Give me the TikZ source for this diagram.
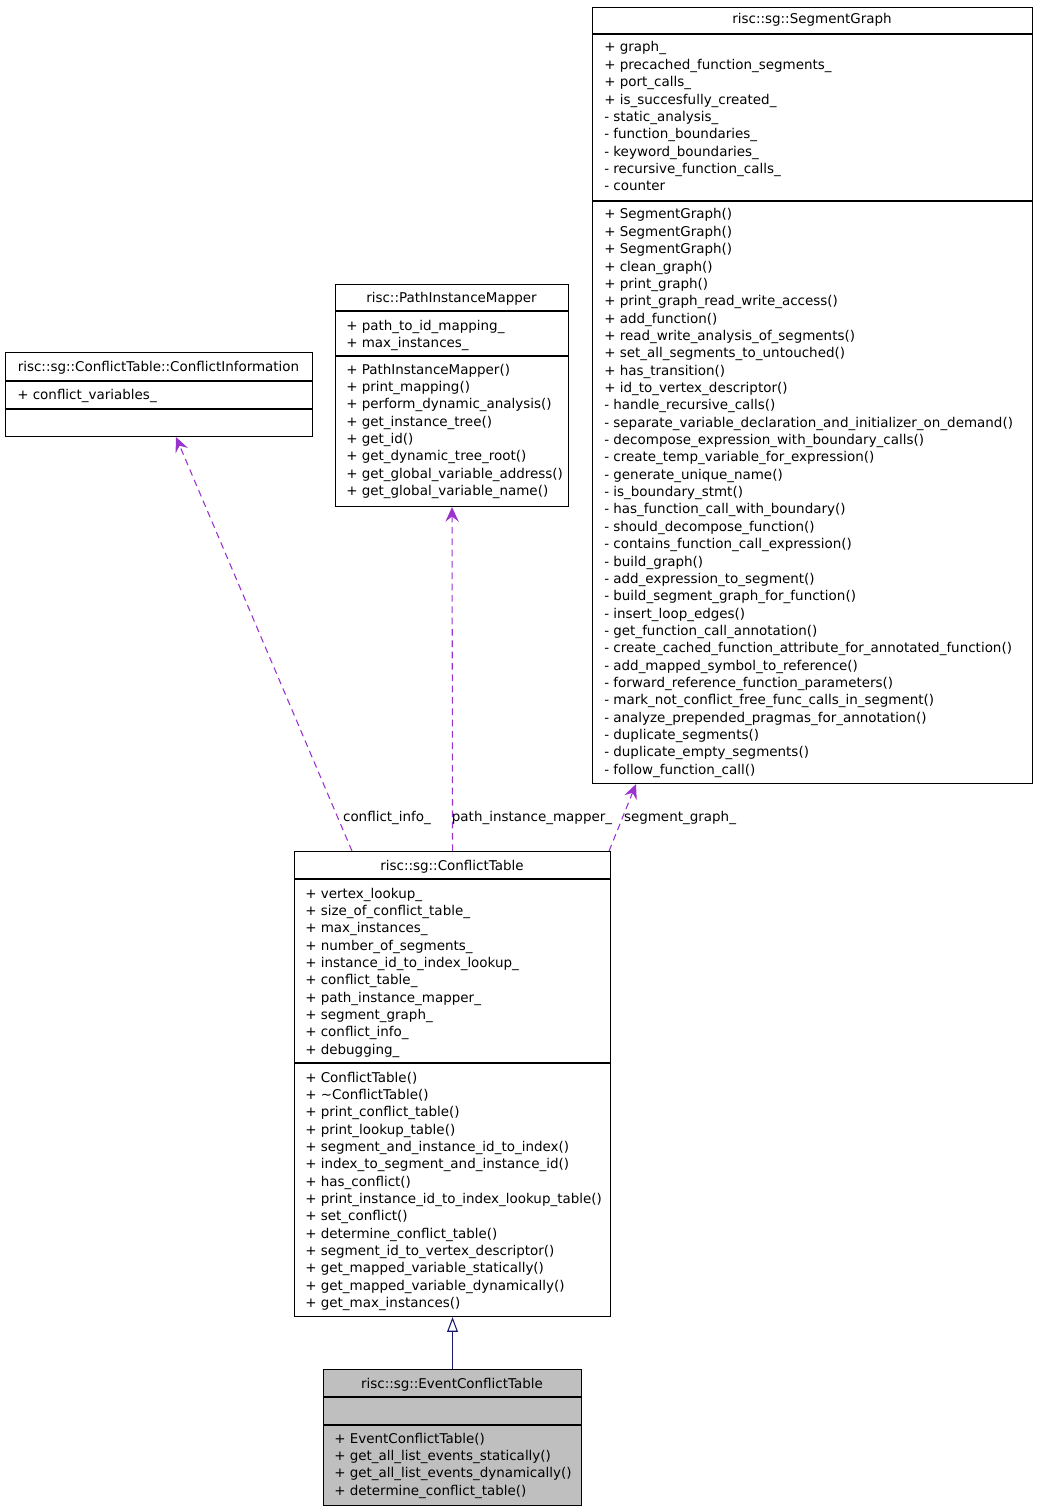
\documentclass[tikz,border=0pt]{standalone}
\usepackage{fontspec}
\setmainfont{DejaVu Sans}
\usetikzlibrary{arrows.meta, calc}
\definecolor{refline}{HTML}{9A32CD}
\definecolor{inhline}{HTML}{191970}
\definecolor{boxfill}{HTML}{BFBFBF}
\tikzset{
  cls/.style={draw=black, line width=0.8pt, anchor=north west, inner sep=0pt},
  rule/.style={line width=0.8pt},
  title/.style={anchor=base, inner sep=0pt, font=\fontsize{10.1}{12}\selectfont},
  member/.style={anchor=base west, inner sep=0pt, font=\fontsize{10.1}{12}\selectfont},
  usage/.style={-{Stealth[length=11pt, width=10pt, inset=4pt]}, line width=0.8pt,
                color=refline, dash pattern=on 5pt off 3.5pt},
  inherit/.style={-{Triangle[open, length=11pt, width=8pt, fill=white]}, line width=0.8pt,
                  color=inhline},
  elabel/.style={anchor=base, inner sep=0pt, font=\fontsize{10.1}{12}\selectfont},
}
% one text line per member, 17.35px apart
\newcommand\memberlist[4]{%
  \foreach \m [count=\i from 0] in {#4}
    \node[member, name=#1\i] at (#2, #3+17.35*\i) {\m};
}

\begin{document}
\begin{tikzpicture}[x=0.75pt,y=-0.75pt]
\useasboundingbox (0,0) rectangle (1037,1512);

% risc::sg::SegmentGraph
\node[cls, minimum width=330pt, minimum height=582pt] (sg) at (592,7) {};
\node[title] (sgt) at (812,24) {risc::sg::SegmentGraph};
\draw[rule] (592,34) -- (1032,34);
\draw[rule] (592,201) -- (1032,201);
\memberlist{sga}{604}{52}{+ graph\_, + precached\_function\_segments\_, + port\_calls\_,
  + is\_succesfully\_created\_, - static\_analysis\_, - function\_boundaries\_,
  - keyword\_boundaries\_, - recursive\_function\_calls\_, - counter}
\memberlist{sgm}{604}{219}{+ SegmentGraph(), + SegmentGraph(), + SegmentGraph(), + clean\_graph(),
  + print\_graph(), + print\_graph\_read\_write\_access(), + add\_function(),
  + read\_write\_analysis\_of\_segments(), + set\_all\_segments\_to\_untouched(),
  + has\_transition(), + id\_to\_vertex\_descriptor(), - handle\_recursive\_calls(),
  - separate\_variable\_declaration\_and\_initializer\_on\_demand(),
  - decompose\_expression\_with\_boundary\_calls(), - create\_temp\_variable\_for\_expression(),
  - generate\_unique\_name(), - is\_boundary\_stmt(), - has\_function\_call\_with\_boundary(),
  - should\_decompose\_function(), - contains\_function\_call\_expression(), - build\_graph(),
  - add\_expression\_to\_segment(), - build\_segment\_graph\_for\_function(),
  - insert\_loop\_edges(), - get\_function\_call\_annotation(),
  - create\_cached\_function\_attribute\_for\_annotated\_function(),
  - add\_mapped\_symbol\_to\_reference(), - forward\_reference\_function\_parameters(),
  - mark\_not\_conflict\_free\_func\_calls\_in\_segment(),
  - analyze\_prepended\_pragmas\_for\_annotation(), - duplicate\_segments(),
  - duplicate\_empty\_segments(), - follow\_function\_call()}

% risc::PathInstanceMapper
\node[cls, minimum width=174.75pt, minimum height=166.5pt] (pim) at (335,284) {};
\node[title] (pimt) at (451.5,302) {risc::PathInstanceMapper};
\draw[rule] (335,311) -- (568,311);
\draw[rule] (335,356) -- (568,356);
\memberlist{pima}{346}{330}{+ path\_to\_id\_mapping\_, + max\_instances\_}
\memberlist{pimm}{346}{374}{+ PathInstanceMapper(), + print\_mapping(), + perform\_dynamic\_analysis(),
  + get\_instance\_tree(), + get\_id(), + get\_dynamic\_tree\_root(),
  + get\_global\_variable\_address(), + get\_global\_variable\_name()}

% risc::sg::ConflictTable::ConflictInformation
\node[cls, minimum width=230.25pt, minimum height=63pt] (ci) at (5,352) {};
\node[title] (cit) at (158.5,371) {risc::sg::ConflictTable::ConflictInformation};
\draw[rule] (5,381) -- (312,381);
\draw[rule] (5,409) -- (312,409);
\memberlist{cia}{17}{399}{+ conflict\_variables\_}

% risc::sg::ConflictTable
\node[cls, minimum width=237pt, minimum height=348.75pt] (ct) at (294,851) {};
\node[title] (ctt) at (452,870) {risc::sg::ConflictTable};
\draw[rule] (294,879) -- (610,879);
\draw[rule] (294,1063) -- (610,1063);
\memberlist{cta}{305}{898}{+ vertex\_lookup\_, + size\_of\_conflict\_table\_, + max\_instances\_,
  + number\_of\_segments\_, + instance\_id\_to\_index\_lookup\_, + conflict\_table\_,
  + path\_instance\_mapper\_, + segment\_graph\_, + conflict\_info\_, + debugging\_}
\memberlist{ctm}{305}{1082}{+ ConflictTable(), + \textasciitilde ConflictTable(), + print\_conflict\_table(),
  + print\_lookup\_table(), + segment\_and\_instance\_id\_to\_index(),
  + index\_to\_segment\_and\_instance\_id(), + has\_conflict(),
  + print\_instance\_id\_to\_index\_lookup\_table(), + set\_conflict(),
  + determine\_conflict\_table(), + segment\_id\_to\_vertex\_descriptor(),
  + get\_mapped\_variable\_statically(), + get\_mapped\_variable\_dynamically(),
  + get\_max\_instances()}

% risc::sg::EventConflictTable
\node[cls, fill=boxfill, minimum width=193.5pt, minimum height=102pt] (ect) at (323,1369) {};
\node[title] (ectt) at (452,1388) {risc::sg::EventConflictTable};
\draw[rule] (323,1397) -- (581,1397);
\draw[rule] (323,1425) -- (581,1425);
\memberlist{ectm}{334}{1443}{+ EventConflictTable(), + get\_all\_list\_events\_statically(),
  + get\_all\_list\_events\_dynamically(), + determine\_conflict\_table()}

% relations
\draw[inherit] (ect.north) -- (ct.south);
\draw[usage] ($(ct.north west)+(58,0)$) -- ($(ci.south west)+(171,0)$);
\draw[usage] (ct.north) -- (pim.south);
\draw[usage] ($(ct.north east)+(-2,0)$) -- ($(sg.south west)+(44,0)$);
\node[elabel] (lci) at (387,821) {conflict\_info\_};
\node[elabel] (lpim) at (532,821) {path\_instance\_mapper\_};
\node[elabel] (lsg) at (680,821) {segment\_graph\_};
\end{tikzpicture}
\end{document}
